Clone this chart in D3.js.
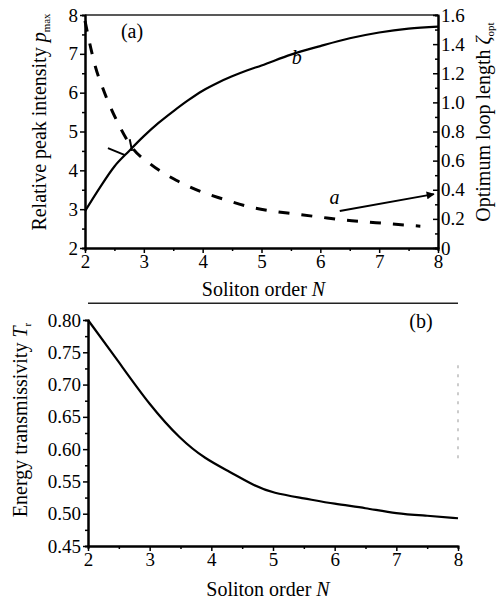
<!DOCTYPE html>
<html>
<head>
<meta charset="utf-8">
<script src="https://cdn.jsdelivr.net/npm/d3@7"></script>
<style>
  body { margin: 0; background: #fff; }
  svg { display: block; font-family: "Liberation Serif", "Times New Roman", serif; }
  .axis path, .axis line { stroke: #000; }
  .axis text { fill: #000; font-family: "Liberation Serif", serif !important; }
  .lbl { font-size: 20px; fill: #000; }
</style>
</head>
<body>
<svg id="chart" width="499" height="599"></svg>
<script>
// panel (a): curve b, peak intensity vs N (left axis)
const nB = [2.0, 2.25, 2.5, 2.75, 3.0, 3.25, 3.5, 3.75, 4.0, 4.25, 4.5, 4.75, 5.0, 5.5, 6.0, 6.5, 7.0, 7.5, 8.0];
const pB = [2.95, 3.55, 4.1, 4.5, 4.88, 5.22, 5.52, 5.8, 6.05, 6.25, 6.42, 6.57, 6.7, 6.98, 7.2, 7.4, 7.55, 7.65, 7.7];

// panel (a): curve a, optimum loop length vs N (right axis)
const nA = [2.0, 2.1, 2.18, 2.3, 2.57, 2.8, 3.1, 3.55, 3.95, 4.35, 4.77, 5.18, 5.57, 5.98, 6.4, 6.79, 7.22, 7.7];
const zA = [1.56, 1.37, 1.24, 1.1, 0.85, 0.69, 0.58, 0.465, 0.39, 0.336, 0.285, 0.254, 0.234, 0.213, 0.192, 0.179, 0.165, 0.15];

// panel (b): energy transmissivity vs N
const nT = [2.0, 2.5, 3.0, 3.5, 3.9, 4.3, 4.7, 5.0, 5.5, 6.0, 6.5, 7.0, 7.5, 8.0];
const tT = [0.80, 0.735, 0.668, 0.615, 0.585, 0.565, 0.543, 0.532, 0.524, 0.515, 0.509, 0.500, 0.497, 0.493];

const xTicks = [2, 3, 4, 5, 6, 7, 8];
const pTicks = [2, 3, 4, 5, 6, 7, 8];
const zTicks = [0, 0.2, 0.4, 0.6, 0.8, 1.0, 1.2, 1.4, 1.6];
const tTicks = [0.45, 0.50, 0.55, 0.60, 0.65, 0.70, 0.75, 0.80];

const svg = d3.select("#chart");
const serif = '"Liberation Serif", "Times New Roman", serif';

function styleAxis(g) {
    g.attr("font-family", null).attr("font-size", null)
    g.selectAll("text")
        .style("font-family", serif)
        .style("font-size", "19px")
    g.select(".domain").attr("stroke-width", 2)
    g.selectAll(".tick line").attr("stroke-width", 1.5)
}

// ---------- panel (a) ----------
const xA = d3.scaleLinear().domain([2, 8]).range([85, 438]);
const yP = d3.scaleLinear().domain([2, 8]).range([248, 15]);
const yZ = d3.scaleLinear().domain([0, 1.6]).range([248, 15]);

// top frame line
svg.append("line")
    .attr("x1", xA(2)).attr("x2", xA(8))
    .attr("y1", yP(8)).attr("y2", yP(8))
    .attr("stroke", "#222").attr("stroke-width", 1.5)

// minor ticks
svg.append("g").attr("class", "axis")
    .attr("transform", "translate(0," + yP(2) + ")")
    .call(d3.axisBottom(xA).tickValues(d3.range(2.5, 8, 1)).tickSize(3).tickFormat(""))
    .call(styleAxis)
svg.append("g").attr("class", "axis")
    .attr("transform", "translate(" + xA(2) + ",0)")
    .call(d3.axisLeft(yP).tickValues(d3.range(2.5, 8, 1)).tickSize(3).tickFormat(""))
    .call(styleAxis)
svg.append("g").attr("class", "axis")
    .attr("transform", "translate(" + xA(8) + ",0)")
    .call(d3.axisRight(yZ).tickValues(d3.range(0.1, 1.6, 0.2)).tickSize(-3).tickFormat(""))
    .call(styleAxis)

svg.append("g").attr("class", "axis")
    .attr("transform", "translate(0," + yP(2) + ")")
    .call(d3.axisBottom(xA).tickValues(xTicks).tickSize(5).tickSizeOuter(0).tickPadding(2).tickFormat(d3.format("d")))
    .call(styleAxis)
svg.append("g").attr("class", "axis")
    .attr("transform", "translate(" + xA(2) + ",0)")
    .call(d3.axisLeft(yP).tickValues(pTicks).tickSize(5).tickSizeOuter(0).tickPadding(2).tickFormat(d3.format("d")))
    .call(styleAxis)
svg.append("g").attr("class", "axis")
    .attr("transform", "translate(" + xA(8) + ",0)")
    .call(d3.axisRight(yZ).tickValues(zTicks).tickSize(-5).tickSizeOuter(0).tickPadding(3)
        .tickFormat(d => d === 0 ? "0" : d3.format(".1f")(d)))
    .call(styleAxis)

const lineB = d3.line()
    .x((d, i) => xA(nB[i]))
    .y(d => yP(d))
    .curve(d3.curveMonotoneX)
svg.append("path")
    .attr("d", lineB(pB))
    .attr("fill", "none").attr("stroke", "#000").attr("stroke-width", 2.2)

const lineA = d3.line()
    .x((d, i) => xA(nA[i]))
    .y(d => yZ(d))
    .curve(d3.curveMonotoneX)
svg.append("path")
    .attr("d", lineA(zA))
    .attr("fill", "none").attr("stroke", "#000").attr("stroke-width", 3)
    .attr("stroke-dasharray", "11,12")

// little marker near crossing (points to left axis)
svg.append("line")
    .attr("x1", xA(2.39)).attr("y1", yP(4.57))
    .attr("x2", xA(2.68)).attr("y2", yP(4.39))
    .attr("stroke", "#000").attr("stroke-width", 2)
svg.append("line")
    .attr("x1", xA(2.76)).attr("y1", yP(4.8))
    .attr("x2", xA(2.8)).attr("y2", yP(4.5))
    .attr("stroke", "#000").attr("stroke-width", 2)

// arrow for curve a towards right axis
svg.append("defs").append("marker")
    .attr("id", "arr").attr("viewBox", "0 0 10 10")
    .attr("refX", 9).attr("refY", 5)
    .attr("markerWidth", 5).attr("markerHeight", 4)
    .attr("orient", "auto")
    .append("path").attr("d", "M0,0L10,5L0,10z").attr("fill", "#000")
svg.append("line")
    .attr("x1", xA(6.33)).attr("y1", yZ(0.254))
    .attr("x2", xA(7.93)).attr("y2", yZ(0.37))
    .attr("stroke", "#000").attr("stroke-width", 2)
    .attr("marker-end", "url(#arr)")

svg.append("text").attr("class", "lbl")
    .attr("x", xA(6.24)).attr("y", yZ(0.3))
    .attr("text-anchor", "middle").attr("font-style", "italic")
    .text("a")
svg.append("text").attr("class", "lbl")
    .attr("x", xA(5.6)).attr("y", yP(6.75))
    .attr("text-anchor", "middle").attr("font-style", "italic")
    .text("b")
svg.append("text").attr("class", "lbl")
    .attr("x", xA(2.8)).attr("y", yP(7.4))
    .attr("text-anchor", "middle").attr("font-size", 18)
    .text("(a)")

// axis titles panel (a)
const tx1 = svg.append("text").attr("class", "lbl")
    .attr("transform", "translate(" + 46 + "," + 122 + ") rotate(-90)")
    .attr("text-anchor", "middle")
tx1.append("tspan").text("Relative peak intensity ")
tx1.append("tspan").attr("font-style", "italic").text("p")
tx1.append("tspan").attr("font-size", 11).attr("dy", 4).text("max")

const tx2 = svg.append("text").attr("class", "lbl")
    .attr("transform", "translate(" + 490 + "," + 122 + ") rotate(-90)")
    .attr("text-anchor", "middle")
tx2.append("tspan").text("Optimum loop length ")
tx2.append("tspan").attr("font-style", "italic").text("ζ")
tx2.append("tspan").attr("font-size", 11).attr("dy", 4).text("opt")

const tx3 = svg.append("text").attr("class", "lbl")
    .attr("x", (xA(2) + xA(8)) / 2 + 2).attr("y", 296)
    .attr("text-anchor", "middle")
tx3.append("tspan").text("Soliton order ")
tx3.append("tspan").attr("font-style", "italic").text("N")

// ---------- panel (b) ----------
const xB = d3.scaleLinear().domain([2, 8]).range([88, 458]);
const yT = d3.scaleLinear().domain([0.45, 0.80]).range([546, 320]);

svg.append("line")
    .attr("x1", xB(2)).attr("x2", xB(8))
    .attr("y1", yT(0.826)).attr("y2", yT(0.826))
    .attr("stroke", "#222").attr("stroke-width", 1.5)
// faint right edge
svg.append("line")
    .attr("x1", xB(8)).attr("x2", xB(8))
    .attr("y1", yT(0.73)).attr("y2", yT(0.58))
    .attr("stroke", "#aaa").attr("stroke-width", 1.2)
    .attr("stroke-dasharray", "3,6")

svg.append("g").attr("class", "axis")
    .attr("transform", "translate(0," + yT(0.45) + ")")
    .call(d3.axisBottom(xB).tickValues(d3.range(2.5, 8, 1)).tickSize(3).tickFormat(""))
    .call(styleAxis)
svg.append("g").attr("class", "axis")
    .attr("transform", "translate(" + xB(2) + ",0)")
    .call(d3.axisLeft(yT).tickValues(d3.range(0.475, 0.8, 0.05)).tickSize(3).tickFormat(""))
    .call(styleAxis)

svg.append("g").attr("class", "axis")
    .attr("transform", "translate(0," + yT(0.45) + ")")
    .call(d3.axisBottom(xB).tickValues(xTicks).tickSize(5).tickSizeOuter(0).tickPadding(2).tickFormat(d3.format("d")))
    .call(styleAxis)
svg.append("g").attr("class", "axis")
    .attr("transform", "translate(" + xB(2) + ",0)")
    .call(d3.axisLeft(yT).tickValues(tTicks).tickSize(5).tickSizeOuter(0).tickPadding(2).tickFormat(d3.format(".2f")))
    .call(styleAxis)

const lineT = d3.line()
    .x((d, i) => xB(nT[i]))
    .y(d => yT(d))
    .curve(d3.curveBasis)
svg.append("path")
    .attr("d", lineT(tT))
    .attr("fill", "none").attr("stroke", "#000").attr("stroke-width", 2.2)

svg.append("text").attr("class", "lbl")
    .attr("x", xB(7.4)).attr("y", yT(0.788))
    .attr("text-anchor", "middle").attr("font-size", 18)
    .text("(b)")

const tx4 = svg.append("text").attr("class", "lbl")
    .attr("transform", "translate(" + 27 + "," + 420 + ") rotate(-90)")
    .attr("text-anchor", "middle")
tx4.append("tspan").text("Energy transmissivity ")
tx4.append("tspan").attr("font-style", "italic").text("T")
tx4.append("tspan").attr("font-size", 11).attr("dy", 4).text("r")

const tx5 = svg.append("text").attr("class", "lbl")
    .attr("x", (xB(2) + xB(8)) / 2 - 5).attr("y", 596)
    .attr("text-anchor", "middle")
tx5.append("tspan").text("Soliton order ")
tx5.append("tspan").attr("font-style", "italic").text("N")
</script>
</body>
</html>
